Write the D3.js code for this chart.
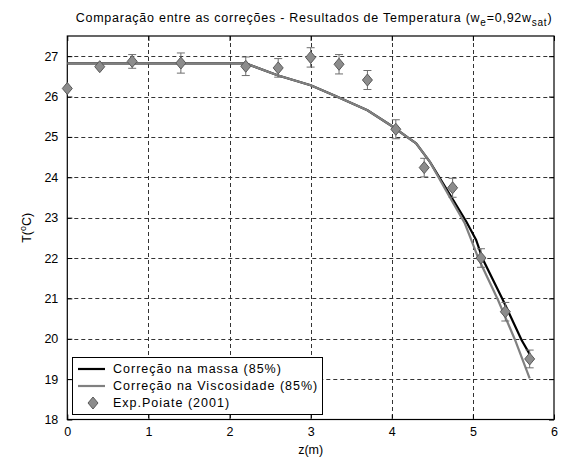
<!DOCTYPE html>
<html>
<head>
<meta charset="utf-8">
<script src="https://cdn.jsdelivr.net/npm/d3@7"></script>
<style>
  body { margin: 0; background: #fff; }
  text { font-family: "Liberation Sans", Arial, Helvetica, sans-serif; fill: #000; }
</style>
</head>
<body>
<svg id="chart" width="570" height="462"></svg>
<script>
// Axis ticks
const zTicks = [0, 1, 2, 3, 4, 5, 6];
const tTicks = [18, 19, 20, 21, 22, 23, 24, 25, 26, 27];

// Model: mass correction (85%)
const massaZ = [0, 2.2, 2.6, 3.0, 3.3, 3.7, 4.0, 4.2, 4.3, 4.47, 4.72, 4.92, 5.04, 5.12, 5.37, 5.6, 5.7];
const massaT = [26.82, 26.82, 26.52, 26.28, 26.02, 25.66, 25.27, 24.98, 24.84, 24.38, 23.56, 22.9, 22.45, 21.98, 20.96, 19.97, 19.62];

// Model: viscosity correction (85%)
const viscZ = [0, 2.2, 2.6, 3.0, 3.3, 3.7, 4.0, 4.2, 4.3, 4.47, 4.70, 4.9, 4.98, 5.07, 5.31, 5.52, 5.7];
const viscT = [26.82, 26.82, 26.52, 26.28, 26.02, 25.66, 25.27, 24.98, 24.84, 24.38, 23.56, 22.86, 22.45, 21.98, 20.96, 19.97, 19.02];

// Experimental data, Poiate (2001)
const expZ = [0, 0.4, 0.8, 1.4, 2.2, 2.6, 3.0, 3.35, 3.7, 4.05, 4.4, 4.75, 5.1, 5.4, 5.7];
const expT = [26.2, 26.74, 26.87, 26.83, 26.75, 26.71, 26.97, 26.8, 26.41, 25.19, 24.24, 23.74, 22.0, 20.67, 19.5];
const expErr = [0, 0, 0.17, 0.25, 0.23, 0.23, 0.24, 0.24, 0.235, 0.235, 0.23, 0.235, 0.23, 0.23, 0.22];

const svg = d3.select("#chart");
const L = 67.3, R = 554, T = 36, B = 419.5;

const x = d3.scaleLinear().domain([0, 6]).range([L, R]);
const y = d3.scaleLinear().domain([18, 27.5]).range([B, T]);

svg.append("rect").attr("width", 570).attr("height", 462).attr("fill", "#fff");

// Grid
const grid = svg.append("g").attr("stroke", "#333").attr("stroke-width", 1).attr("stroke-dasharray", "4,3");
grid.selectAll("line.gx").data(zTicks.slice(1, -1)).join("line")
  .attr("x1", d => Math.round(x(d)) + 0.5).attr("x2", d => Math.round(x(d)) + 0.5)
  .attr("y1", T).attr("y2", B);
grid.selectAll("line.gy").data(tTicks.slice(1)).join("line")
  .attr("y1", d => Math.round(y(d)) + 0.5).attr("y2", d => Math.round(y(d)) + 0.5)
  .attr("x1", L).attr("x2", R);

// Axes with inward ticks on all four sides
const fmt = d3.format("d");
const axB = d3.axisBottom(x).tickValues(zTicks).tickFormat(fmt).tickSizeInner(-5).tickSizeOuter(0).tickPadding(8);
const axT = d3.axisTop(x).tickValues(zTicks).tickSizeInner(-5).tickSizeOuter(0).tickFormat("");
const axLf = d3.axisLeft(y).tickValues(tTicks).tickFormat(fmt).tickSizeInner(-5).tickSizeOuter(0).tickPadding(9);
const axRt = d3.axisRight(y).tickValues(tTicks).tickSizeInner(-5).tickSizeOuter(0).tickFormat("");

function styleAxis(g) {
  g.selectAll(".domain").remove();
  g.selectAll("line").attr("stroke", "#000");
  g.selectAll("text").style("font-size", "12.5px").attr("fill", "#000");
}
svg.append("g").attr("transform", `translate(0,${B})`).call(axB).call(styleAxis);
svg.append("g").attr("transform", `translate(0,${T})`).call(axT).call(styleAxis);
svg.append("g").attr("transform", `translate(${L},0)`).call(axLf).call(styleAxis);
svg.append("g").attr("transform", `translate(${R},0)`).call(axRt).call(styleAxis);

svg.append("rect").attr("x", L).attr("y", T).attr("width", R - L).attr("height", B - T)
  .attr("fill", "none").attr("stroke", "#000").attr("stroke-width", 1.2);

// Model curves
const line = d3.line().x(d => x(d[0])).y(d => y(d[1]));
svg.append("path").datum(d3.zip(massaZ, massaT)).attr("d", line)
  .attr("fill", "none").attr("stroke", "#000").attr("stroke-width", 2.2);
svg.append("path").datum(d3.zip(viscZ, viscT)).attr("d", line)
  .attr("fill", "none").attr("stroke", "#808080").attr("stroke-width", 2.2);

// Error bars
const expData = expZ.map((z, i) => ({ z, t: expT[i], e: expErr[i] }));
const eb = svg.append("g").attr("stroke", "#6e6e6e").attr("stroke-width", 1);
const withErr = expData.filter(d => d.e > 0);
eb.selectAll("line.v").data(withErr).join("line")
  .attr("x1", d => x(d.z)).attr("x2", d => x(d.z))
  .attr("y1", d => y(d.t - d.e)).attr("y2", d => y(d.t + d.e));
eb.selectAll("line.top").data(withErr).join("line")
  .attr("x1", d => x(d.z) - 4).attr("x2", d => x(d.z) + 4)
  .attr("y1", d => y(d.t + d.e)).attr("y2", d => y(d.t + d.e));
eb.selectAll("line.bot").data(withErr).join("line")
  .attr("x1", d => x(d.z) - 4).attr("x2", d => x(d.z) + 4)
  .attr("y1", d => y(d.t - d.e)).attr("y2", d => y(d.t - d.e));

// Diamond markers
const diamond = "M0,-6L5,0L0,6L-5,0Z";
svg.append("g").selectAll("path").data(expData).join("path")
  .attr("transform", d => `translate(${x(d.z)},${y(d.t)})`)
  .attr("d", diamond).attr("fill", "#8c8c8c").attr("stroke", "#5a5a5a").attr("stroke-width", 1);

// Legend
const lg = svg.append("g");
lg.append("rect").attr("x", 72.5).attr("y", 357.5).attr("width", 250).attr("height", 57)
  .attr("fill", "#fff").attr("stroke", "#000").attr("stroke-width", 1);
const rows = [
  { label: "Correção na massa (85%)", type: "line", color: "#000", yy: 369 },
  { label: "Correção na Viscosidade (85%)", type: "line", color: "#808080", yy: 386 },
  { label: "Exp.Poiate (2001)", type: "marker", yy: 403 }
];
rows.forEach(r => {
  if (r.type === "line") {
    lg.append("line").attr("x1", 78).attr("x2", 105).attr("y1", r.yy).attr("y2", r.yy)
      .attr("stroke", r.color).attr("stroke-width", 2.2);
  } else {
    lg.append("path").attr("d", diamond).attr("transform", `translate(93,${r.yy})`)
      .attr("fill", "#8c8c8c").attr("stroke", "#5a5a5a");
  }
  lg.append("text").attr("x", 113).attr("y", r.yy).attr("dy", "0.35em")
    .style("font-size", "12.5px").style("letter-spacing", "1px").text(r.label);
});

// Title
const title = svg.append("text").attr("x", 314).attr("y", 22).attr("text-anchor", "middle")
  .style("font-size", "12.5px").style("letter-spacing", "0.75px");
title.append("tspan").text("Comparação entre as correções - Resultados de Temperatura (w");
title.append("tspan").attr("dy", 4).style("font-size", "10px").text("e");
title.append("tspan").attr("dy", -4).text("=0,92w");
title.append("tspan").attr("dy", 4).style("font-size", "10px").text("sat");
title.append("tspan").attr("dy", -4).text(")");

// Axis titles
svg.append("text").attr("x", (L + R) / 2).attr("y", 454).attr("text-anchor", "middle")
  .style("font-size", "12.5px").text("z(m)");
const yl = svg.append("text").attr("transform", `translate(31,${(T + B) / 2}) rotate(-90)`)
  .attr("text-anchor", "middle").style("font-size", "12.5px");
yl.append("tspan").text("T(");
yl.append("tspan").attr("dy", -5).style("font-size", "9px").text("o");
yl.append("tspan").attr("dy", 5).text("C)");
</script>
</body>
</html>
